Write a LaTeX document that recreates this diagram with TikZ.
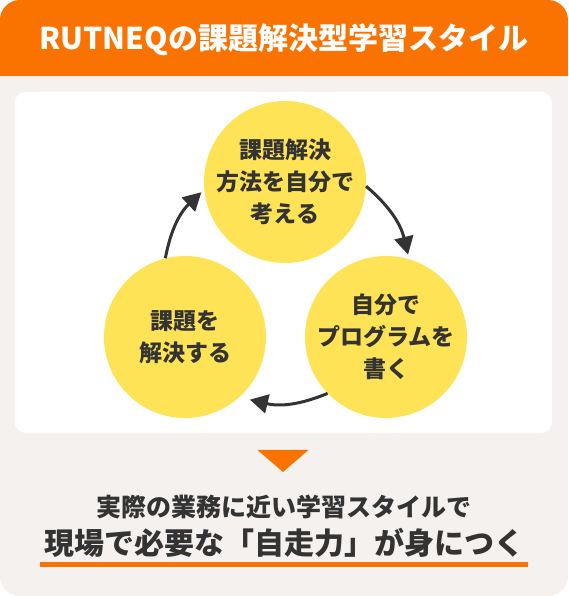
\documentclass[tikz,border=0pt]{standalone}
\usepackage{fontspec}
\setmainfont{Noto Sans CJK JP}
\usepackage{tikz}
\usetikzlibrary{positioning,arrows.meta,calc}
\definecolor{rutorange}{HTML}{FA7300}
\definecolor{rutgray}{HTML}{F4F1EE}
\definecolor{rutyellow}{HTML}{FFE356}
\definecolor{rutink}{HTML}{333333}
\tikzset{
    phase/.style={circle,fill=rutyellow,minimum size=162pt,inner sep=0pt,align=center,
        text=rutink,font=\fontsize{23}{32}\selectfont\bfseries},
    cyclearrow/.style={draw=rutink,line width=3pt,-{Triangle[length=18pt,width=19pt]}},
    headline/.style={text=white,inner sep=0pt,font=\fontsize{30}{36}\selectfont\bfseries},
    leadline/.style={text=rutink,inner sep=0pt,font=\fontsize{25}{30}\selectfont\bfseries},
    goalline/.style={text=rutink,inner sep=0pt,font=\fontsize{30}{36}\selectfont\bfseries},
}

\begin{document}
\begin{tikzpicture}[x=1pt,y=1pt]
    \useasboundingbox (0,0) rectangle (568,596);
    % card with orange header
    \begin{scope}
        \clip[rounded corners=20pt] (0,0) rectangle (568,596);
        \fill[rutgray] (0,0) rectangle (568,596);
        \fill[rutorange] (0,520) rectangle (568,596);
    \end{scope}
    \node[headline] (head) at (284,556) {RUTNEQの課題解決型学習スタイル};
    \fill[white,rounded corners=11pt] (14.5,163) rectangle (552,504);
    % learning cycle
    \node[phase] (think) at (285,414) {課題解決\\方法を自分で\\考える};
    \node[phase] (code) at (386,259) {自分で\\プログラムを\\書く};
    \node[phase] (solve) at (185,259) {課題を\\解決する};
    \draw[cyclearrow] (think.-3) to[bend left=18] ([shift={(75:4pt)}]code.75);
    \draw[cyclearrow] (code.224) to[bend left=18] ([shift={(-44:9pt)}]solve.-44);
    \draw[cyclearrow] (solve.104) to[bend left=18] ([shift={(187:3pt)}]think.187);
    % result
    \fill[rutorange] (257.5,146) -- (308.5,146) -- (283,124) -- cycle;
    \node[leadline] (lead) at (284,89) {実際の業務に近い学習スタイルで};
    \node[goalline] (goal) at (284,53) {現場で必要な「自走力」が身につく};
    \draw[rutorange,line width=5.5pt] ([xshift=-4pt,yshift=-10pt]goal.base west)
        -- ([xshift=4pt,yshift=-10pt]goal.base east);
\end{tikzpicture}
\end{document}
